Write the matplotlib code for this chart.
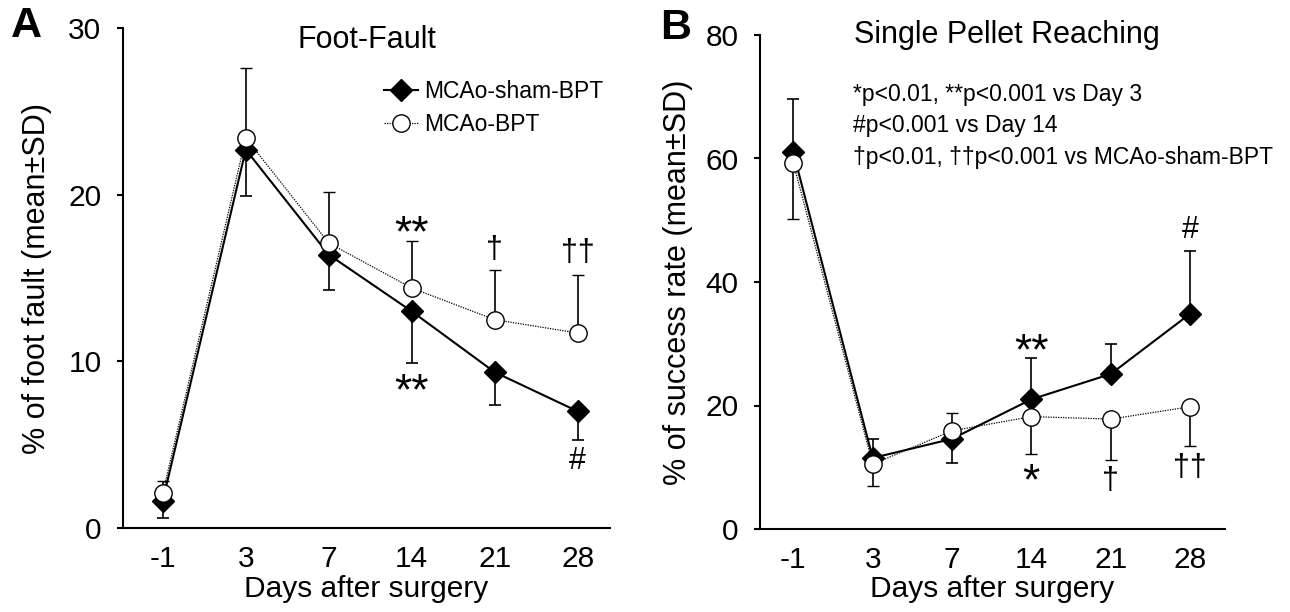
import numpy as np
import matplotlib
matplotlib.use('Agg')
import matplotlib.pyplot as plt
from matplotlib.lines import Line2D

plt.rcParams['font.family'] = ['Liberation Sans', 'DejaVu Sans']

# Dias despues de la cirugia (eje x categorico)
days = ['-1', '3', '7', '14', '21', '28']

# ====== Panel A: Foot-Fault ======
ff_sham = [1.65, 22.7, 16.4, 13.0, 9.35, 7.0]
ff_sham_lo = [1.05, 2.8, 2.1, 3.1, 1.95, 1.7]
ff_sham_hi = [0, 0, 0, 0, 0, 0]
ff_bpt = [2.1, 23.4, 17.1, 14.4, 12.5, 11.7]
ff_bpt_lo = [0, 0, 0, 0, 0, 0]
ff_bpt_hi = [0.7, 4.2, 3.05, 2.8, 3.0, 3.5]

# ====== Panel B: Single Pellet Reaching ======
sp_sham = [61.0, 11.5, 14.6, 21.0, 25.1, 34.85]
sp_sham_lo = [0, 0, 3.9, 0, 0, 0]
sp_sham_hi = [8.7, 3.1, 0, 6.7, 4.9, 10.1]
sp_bpt = [59.3, 10.5, 15.9, 18.2, 17.8, 19.8]
sp_bpt_lo = [9.1, 3.6, 0, 6.0, 6.6, 6.4]
sp_bpt_hi = [0, 0, 2.9, 0, 0, 0]

# marcas de significancia: (indice, valor y, texto)
ff_marks = [(3, 17.6, '**'), (3, 8.1, '**'), (4, 16.7, '\u2020'), (5, 16.5, '\u2020\u2020'), (5, 4.0, '#')]
sp_marks = [(5, 48.4, '#'), (3, 28.5, '**'), (3, 7.4, '*'), (4, 7.7, '\u2020'), (5, 9.9, '\u2020\u2020')]
sp_notes = ['*p<0.01, **p<0.001 vs Day 3',
            '#p<0.001 vs Day 14',
            '\u2020p<0.01, \u2020\u2020p<0.001 vs MCAo-sham-BPT']

fig = plt.figure(figsize=(12.9, 6.12), dpi=100)
axA = fig.add_axes([123/1290, 1-528/612, 487/1290, 500/612])
axB = fig.add_axes([760/1290, 1-529/612, 465/1290, 494/612])

x = np.arange(len(days))


def draw_panel(ax, sham, sham_lo, sham_hi, bpt, bpt_lo, bpt_hi):
    ax.errorbar(x, sham, yerr=[sham_lo, sham_hi], color='black', lw=1.5,
                marker='D', markersize=11, mfc='black', mec='black',
                ecolor='black', elinewidth=1.2, capsize=4, capthick=1.2, zorder=3)
    ax.errorbar(x, bpt, yerr=[bpt_lo, bpt_hi], color='black', lw=0.9, ls=(0, (1, 1)),
                marker='o', markersize=12.5, mfc='white', mec='black', mew=1.0,
                ecolor='black', elinewidth=1.2, capsize=4, capthick=1.2, zorder=4)
    ax.spines['top'].set_visible(False)
    ax.spines['right'].set_visible(False)
    ax.spines['left'].set_linewidth(1.5)
    ax.spines['bottom'].set_linewidth(1.5)
    ax.set_xticks(x)
    ax.set_xticklabels(days)
    ax.tick_params(axis='x', length=0, pad=12, labelsize=21.5)
    ax.tick_params(axis='y', direction='out', length=4.5, width=1.5, pad=11, labelsize=21.5)
    ax.set_xlabel('Days after surgery', fontsize=21.5)


draw_panel(axA, ff_sham, ff_sham_lo, ff_sham_hi, ff_bpt, ff_bpt_lo, ff_bpt_hi)
draw_panel(axB, sp_sham, sp_sham_lo, sp_sham_hi, sp_bpt, sp_bpt_lo, sp_bpt_hi)

axA.set_xlim(-0.48, 5.39)
axA.set_ylim(0, 30)
axA.set_yticks([0, 10, 20, 30])
axA.set_ylabel('% of foot fault (mean\u00b1SD)', fontsize=22)
axA.text(0.5, 0.975, 'Foot-Fault', transform=axA.transAxes, ha='center', va='center', fontsize=22)
handles = [Line2D([], [], color='black', lw=1.5, marker='D', markersize=11, mfc='black'),
           Line2D([], [], color='black', lw=0.9, ls=(0, (1, 1)), marker='o', markersize=12.5,
                  mfc='white', mec='black', mew=1.0)]
axA.legend(handles, ['MCAo-sham-BPT', 'MCAo-BPT'], loc='upper right', bbox_to_anchor=(1.005, 0.915),
           frameon=False, fontsize=16.5, handlelength=1.5, handletextpad=0.25, labelspacing=0.45,
           borderaxespad=0)

axB.set_xlim(-0.42, 5.44)
axB.set_ylim(0, 80)
axB.set_yticks([0, 20, 40, 60, 80])
axB.set_ylabel('% of success rate (mean\u00b1SD)', fontsize=22)
axB.text(0.53, 1.0, 'Single Pellet Reaching', transform=axB.transAxes, ha='center', va='center', fontsize=22)
for i, line in enumerate(sp_notes):
    axB.text(0.2, 0.88 - i*0.064, line, transform=axB.transAxes, ha='left', va='center', fontsize=16.5)

for ax, marks in ((axA, ff_marks), (axB, sp_marks)):
    for i, yv, s in marks:
        size = 32 if '*' in s else 22
        ax.text(x[i], yv, s, ha='center', va='center', fontsize=size)

for ax in (axA, axB):
    ax.yaxis.set_label_coords(-0.145, 0.5)
    ax.xaxis.set_label_coords(0.5, -0.094)

fig.text(26/1290, 1-26/612, 'A', fontsize=31, fontweight='bold', ha='center', va='center')
fig.text(676/1290, 1-28/612, 'B', fontsize=31, fontweight='bold', ha='center', va='center')

fig.savefig('out.png', dpi=100)
